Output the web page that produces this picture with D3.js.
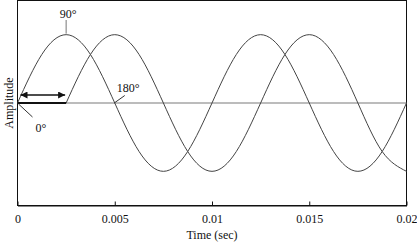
<!DOCTYPE html>
<html lang="en">
<head>
  <meta charset="UTF-8">
  <script src="https://cdnjs.cloudflare.com/ajax/libs/d3/7.8.5/d3.min.js"></script>
  <title>Phase shift</title>
  <style>
    body { margin: 0; background: #fff; }
    text { font-family: "Liberation Serif", serif; fill: #111; }
  </style>
</head>
<body>
  <div id="chart"></div>
  <script>
    // points, every 1/8 period (period = 0.01 s)
    const times1 = [0, 0.00125, 0.0025, 0.00375, 0.005, 0.00625, 0.0075, 0.00875, 0.01,
      0.01125, 0.0125, 0.01375, 0.015, 0.01625, 0.0175, 0.01875, 0.02];
    const wave1 = [0, 0.71, 1, 0.71, 0, -0.71, -1, -0.71, 0, 0.71, 1, 0.71, 0, -0.71, -1, -0.71, 0];
    const times2 = [0.0025, 0.00375, 0.005, 0.00625, 0.0075, 0.00875, 0.01,
      0.01125, 0.0125, 0.01375, 0.015, 0.01625, 0.0175, 0.01875, 0.02];
    const wave2 = [0, 0.71, 1, 0.71, 0, -0.71, -1, -0.71, 0, 0.71, 1, 0.71, 0, -0.71, -1];
    const delayTimes = [0, 0.0025];
    const delayValues = [0, 0];
    const tickValues = [0, 0.005, 0.01, 0.015, 0.02];
    const tickLabels = ['0', '0.005', '0.01', '0.015', '0.02'];

    const margin = { top: 0.5, right: 10.5, bottom: 37.5, left: 17.5 };
    const W = 417, H = 243;
    const width = W - margin.left - margin.right;
    const height = H - margin.top - margin.bottom;

    const svg = d3.select('#chart').append('svg')
      .attr('width', W).attr('height', H)
      .append('g')
      .attr('transform', `translate(${margin.left},${margin.top})`);

    const x = d3.scaleLinear().domain([0, 0.02]).range([0, width]);
    const y = d3.scaleLinear().domain([-1.5, 1.5]).range([height, 0]);

    // frame
    svg.append('rect')
      .attr('width', width).attr('height', height)
      .attr('fill', 'none').attr('stroke', '#111').attr('stroke-width', 1);

    // zero line
    svg.append('line')
      .attr('x1', x(0)).attr('x2', x(0.02))
      .attr('y1', y(0)).attr('y2', y(0))
      .attr('stroke', '#7a7a7a').attr('stroke-width', 1.2);

    const line = d3.line()
      .x(d => x(d[0])).y(d => y(d[1]))
      .curve(d3.curveNatural);

    svg.append('path')
      .datum(d3.zip(times1, wave1))
      .attr('d', line)
      .attr('fill', 'none').attr('stroke', '#444').attr('stroke-width', 1);

    svg.append('path')
      .datum(d3.zip(times2, wave2))
      .attr('d', line)
      .attr('fill', 'none').attr('stroke', '#444').attr('stroke-width', 1);

    svg.append('path')
      .datum(d3.zip(delayTimes, delayValues))
      .attr('d', d3.line().x(d => x(d[0])).y(d => y(d[1])))
      .attr('fill', 'none').attr('stroke', '#111').attr('stroke-width', 2);

    // x axis
    const xAxis = svg.append('g')
      .attr('transform', `translate(0,${height})`)
      .call(d3.axisBottom(x)
        .tickValues(tickValues)
        .tickFormat((d, i) => tickLabels[i])
        .tickSizeInner(-4).tickSizeOuter(0));
    xAxis.select('.domain').attr('stroke', '#111');
    xAxis.selectAll('.tick line').attr('stroke', '#111');
    xAxis.selectAll('text')
      .style('font-family', '"Liberation Serif", serif')
      .style('font-size', '12px').attr('fill', '#111')
      .attr('y', 8.5);

    svg.append('text')
      .attr('x', width / 2).attr('y', height + 33.5)
      .attr('text-anchor', 'middle')
      .style('font-size', '12px')
      .text('Time (sec)');

    svg.append('text')
      .attr('transform', `translate(${-9},${y(0)}) rotate(-90)`)
      .attr('text-anchor', 'middle')
      .attr('dy', '0.35em')
      .style('font-size', '12px')
      .text('Amplitude');

    // double arrow showing the delay
    const ay = y(0) - 8;
    const defs = d3.select('svg').append('defs');
    defs.append('marker')
      .attr('id', 'head').attr('viewBox', '0 0 10 10')
      .attr('refX', 10).attr('refY', 5)
      .attr('markerWidth', 9).attr('markerHeight', 7)
      .attr('markerUnits', 'userSpaceOnUse')
      .attr('orient', 'auto-start-reverse')
      .append('path').attr('d', 'M0,0L10,5L0,10Z').attr('fill', '#111');
    svg.append('line')
      .attr('x1', x(0) + 3).attr('x2', x(0.0025) - 1)
      .attr('y1', ay).attr('y2', ay)
      .attr('stroke', '#111').attr('stroke-width', 1.5)
      .attr('marker-start', 'url(#head)')
      .attr('marker-end', 'url(#head)');

    // annotations
    const note = (sel) => sel
      .style('font-family', '"Liberation Serif", serif')
      .style('font-size', '12px').attr('fill', '#111');

    svg.append('line')
      .attr('x1', x(0.0025)).attr('x2', x(0.0025))
      .attr('y1', 19.5).attr('y2', y(1) - 1)
      .attr('stroke', '#777');
    svg.append('text')
      .attr('x', x(0.0025) + 2).attr('y', 17)
      .attr('text-anchor', 'middle')
      .call(note)
      .text('90°');

    svg.append('line')
      .attr('x1', x(0.005) - 0.5).attr('x2', x(0.005) + 10)
      .attr('y1', y(0)).attr('y2', y(0) - 7.5)
      .attr('stroke', '#333');
    svg.append('text')
      .attr('x', x(0.005) + 2).attr('y', 91.5)
      .call(note)
      .text('180°');

    svg.append('line')
      .attr('x1', x(0) + 1).attr('x2', x(0) + 15)
      .attr('y1', y(0) + 1).attr('y2', y(0) + 14)
      .attr('stroke', '#333');
    svg.append('text')
      .attr('x', x(0) + 18).attr('y', 131)
      .call(note)
      .text('0°');
  </script>
</body>
</html>
